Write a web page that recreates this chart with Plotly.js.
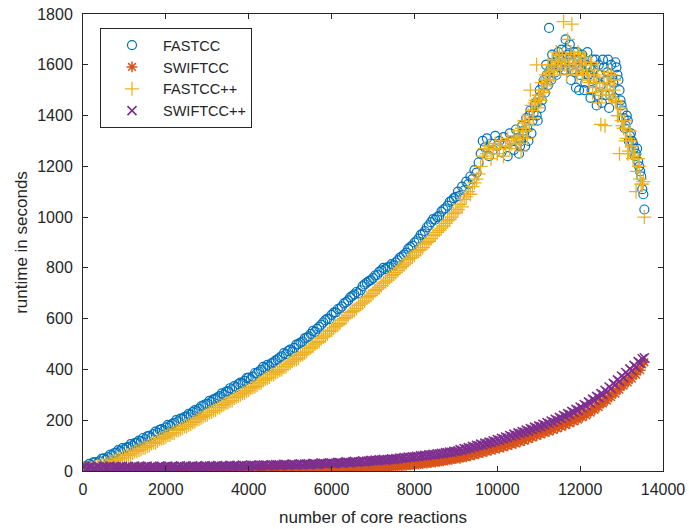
<!DOCTYPE html>
<html>
<head>
<meta charset="utf-8">
<script src="https://cdn.plot.ly/plotly-3.0.1.min.js"></script>
<style>html,body{margin:0;padding:0;background:#fff;}#chart{width:689px;height:529px;}</style>
</head>
<body>
<div id="chart"></div>
<script>
// number of core reactions (shared x values)
const coreReactions = [
0,50,100,150,200,250,300,350,400,450,500,550,600,650,700,750,800,850,900,950,
1000,1050,1100,1150,1200,1250,1300,1350,1400,1450,1500,1550,1600,1650,1700,1750,1800,1850,1900,1950,
2000,2050,2100,2150,2200,2250,2300,2350,2400,2450,2500,2550,2600,2650,2700,2750,2800,2850,2900,2950,
3000,3050,3100,3150,3200,3250,3300,3350,3400,3450,3500,3550,3600,3650,3700,3750,3800,3850,3900,3950,
4000,4050,4100,4150,4200,4250,4300,4350,4400,4450,4500,4550,4600,4650,4700,4750,4800,4850,4900,4950,
5000,5050,5100,5150,5200,5250,5300,5350,5400,5450,5500,5550,5600,5650,5700,5750,5800,5850,5900,5950,
6000,6050,6100,6150,6200,6250,6300,6350,6400,6450,6500,6550,6600,6650,6700,6750,6800,6850,6900,6950,
7000,7050,7100,7150,7200,7250,7300,7350,7400,7450,7500,7550,7600,7650,7700,7750,7800,7850,7900,7950,
8000,8050,8100,8150,8200,8250,8300,8350,8400,8450,8500,8550,8600,8650,8700,8750,8800,8850,8900,8950,
9000,
9050,9100,9150,9200,9250,9300,9350,9400,9450,9500,
9550,9600,9650,9700,9750,9800,9850,9900,9950,10000,
10050,10100,10150,10200,10250,10300,10350,10400,10450,10500,
10550,10600,10650,10700,10750,10800,10850,10900,10950,11000,
11050,11100,11150,11200,11250,11300,11350,11400,11450,11500,
11550,11600,11650,11700,11750,11800,11850,11900,11950,12000,
12050,12100,12150,12200,12250,12300,12350,12400,12450,12500,
12550,12600,12650,12700,12750,12800,12850,12900,12950,13000,
13050,13100,13150,13200,13250,13300,13350,13400,13450,13500,
13550
];

// extra FASTCC / FASTCC++ runs in the peak region
const coreReactionsPeak = [
10525,10575,10625,10675,10725,10775,10825,10875,10925,10975,
11025,11075,11125,11175,11225,11275,11325,11375,11425,11475,
11525,11575,11625,11675,11725,11775,11825,11875,11925,11975,
12025,12075,12125,12175,12225,12275,12325,12375,12425,12475,
12525,12575,12625,12675,12725,12775,12825,12875,12925,12975,
13025,13075,13125,13175,13225,13275,13325,13375,13425,13475,
13525
];

// runtime in seconds, FASTCC
const fastcc = [
12,18,20,28,22,34,35,30,38,48,50,44,55,64,62,70,72,82,78,90,
85,92,95,106,100,110,112,120,118,130,125,136,138,132,145,155,150,162,165,160,
172,182,178,185,190,200,195,206,205,212,215,225,222,232,240,236,245,255,258,262,
265,276,272,282,285,290,295,306,300,312,315,326,322,334,330,342,348,345,355,366,
368,362,372,386,385,392,398,410,405,418,412,424,428,436,440,448,452,464,460,472,
478,470,485,498,500,506,510,522,525,530,540,552,548,560,568,576,585,594,600,598,
615,624,625,638,640,648,660,665,672,684,690,696,705,700,712,728,735,742,748,752,
760,770,772,784,790,800,795,802,805,815,810,822,830,840,845,852,860,875,882,888,
900,905,915,930,935,945,960,968,980,992,990,1000,1005,1022,1030,1035,1045,1060,1065,1075,
1080,
1100,1085,1120,1105,1140,1130,1160,1150,1185,1175,
1215,1250,1300,1275,1310,1240,1290,1265,1320,1280,
1300,1255,1315,1290,1240,1330,1300,1265,1345,1310,
1280,1360,1330,1390,1300,1420,1380,1440,1400,1470,
1430,1520,1490,1560,1745,1540,1600,1570,1630,1590,
1660,1610,1700,1640,1680,1580,1650,1510,1620,1560,
1640,1500,1600,1560,1470,1620,1540,1440,1600,1520,
1620,1480,1570,1430,1600,1530,1610,1560,1500,1440,
1390,1360,1380,1320,1300,1270,1250,1220,1180,1110,
1030
];
const fastccPeak = [
1250,1300,1340,1280,1350,1400,1330,1410,1450,1380,
1500,1460,1540,1600,1520,1580,1640,1610,1560,1650,
1600,1630,1580,1660,1620,1540,1610,1570,1650,1500,
1580,1610,1530,1650,1590,1500,1580,1620,1480,1560,
1450,1590,1540,1620,1480,1550,1470,1590,1540,1460,
1420,1350,1400,1300,1330,1290,1240,1270,1200,1160,
1090
];

// runtime in seconds, SWIFTCC
const swiftcc = [
2,4,3,1,2,5,4,2,3,5,2,3,4,2,3,5,2,4,4,3,
3,5,2,4,4,2,3,5,3,4,4,2,2,5,4,3,3,5,4,3,
3,5,4,2,3,5,5,3,4,6,3,4,5,3,4,6,3,5,5,3,
4,6,5,3,4,6,3,5,5,4,4,6,5,3,4,6,6,4,5,7,
4,6,5,7,6,4,5,7,4,6,6,5,5,7,6,5,5,7,6,5,
5,7,6,5,5,8,7,6,6,8,7,6,6,9,8,7,7,9,8,7,
7,9,8,10,8,9,9,11,9,10,10,12,10,11,11,13,12,12,12,14,
13,15,14,14,15,17,15,17,17,19,18,19,19,22,21,22,22,25,24,25,
25,28,27,29,29,32,31,33,33,36,35,38,38,40,40,43,43,46,46,49,
49,
52,50,55,57,56,61,60,66,64,69,
68,74,72,78,77,83,81,88,86,92,
90,97,94,101,99,107,104,112,109,117,
115,123,120,129,126,135,132,141,138,147,
144,153,150,159,156,165,162,171,168,178,
175,185,181,192,188,199,195,206,202,214,
212,224,219,234,230,245,241,256,252,268,
266,281,277,296,291,310,305,324,320,338,
336,354,349,369,364,385,380,402,397,420,
428
];

// runtime in seconds, FASTCC++
const fastccPP = [
8,6,10,14,12,10,15,22,18,24,22,30,28,34,35,40,42,48,48,52,
55,62,62,68,70,77,78,82,85,92,92,98,100,108,112,110,118,126,128,130,
135,142,142,150,150,160,160,164,168,176,175,182,185,192,195,202,205,210,215,220,
222,230,232,238,240,250,250,258,262,268,270,276,278,288,290,295,300,306,308,315,
318,327,330,332,338,347,348,356,362,366,370,380,380,388,392,398,400,410,412,420,
425,432,438,440,445,456,460,466,472,482,485,492,500,506,510,522,528,532,540,550,
555,564,570,575,582,594,600,604,612,624,628,632,640,652,658,662,670,682,688,692,
700,710,715,722,730,740,745,752,762,770,775,782,790,800,805,812,820,832,838,842,
850,862,868,872,880,894,900,905,915,927,930,940,948,957,965,975,985,990,1000,1014,
1020,
1030,1050,1040,1070,1080,1100,1090,1120,1135,1150,
1170,1200,1240,1270,1250,1280,1230,1265,1290,1250,
1270,1300,1240,1280,1310,1270,1290,1320,1300,1340,
1310,1350,1380,1340,1400,1500,1420,1450,1600,1480,
1460,1500,1540,1520,1570,1600,1560,1620,1590,1640,
1610,1770,1620,1700,1590,1760,1630,1580,1650,1600,
1560,1630,1580,1540,1610,1490,1560,1530,1450,1365,
1500,1360,1530,1480,1560,1500,1460,1400,1250,1380,
1350,1300,1250,1340,1280,1240,1100,1230,1150,1130,
1000
];
const fastccPPPeak = [
1290,1260,1320,1370,1310,1360,1440,1390,1460,1430,
1470,1530,1490,1560,1600,1540,1620,1580,1650,1610,
1580,1640,1600,1560,1620,1650,1590,1620,1560,1640,
1610,1570,1620,1560,1530,1600,1550,1510,1580,1530,
1480,1550,1500,1570,1520,1470,1540,1450,1400,1430,
1360,1380,1310,1260,1300,1230,1250,1180,1200,1130,
1140
];

// runtime in seconds, SWIFTCC++
const swiftccPP = [
14,18,12,15,16,11,13,18,15,12,17,14,14,19,12,16,16,13,15,18,
13,16,17,12,15,19,14,16,18,13,16,19,13,16,17,14,15,19,18,14,
16,19,14,17,18,14,16,20,15,17,19,15,17,20,15,18,18,15,17,21,
16,19,19,16,18,21,16,19,20,17,18,22,17,20,21,18,19,23,18,21,
20,23,22,19,19,23,21,24,23,20,20,24,22,25,24,21,22,26,25,23,
23,27,25,23,26,28,24,27,27,25,26,30,28,26,27,31,30,28,29,32,
31,29,30,34,33,31,32,36,34,33,35,38,34,36,37,40,36,39,39,42,
40,43,41,44,43,46,42,45,45,48,46,49,47,51,50,53,51,55,53,56,
55,58,56,60,59,62,60,64,63,66,64,68,67,70,69,73,72,75,74,78,
77,
79,84,81,88,86,92,89,97,94,101,
99,106,102,110,107,114,112,119,116,124,
121,129,126,134,131,140,136,145,141,150,
147,155,152,161,157,167,163,173,169,178,
175,184,181,191,187,197,193,204,200,211,
207,219,214,226,222,235,230,243,239,252,
248,262,257,272,267,283,278,294,289,305,
301,318,311,331,325,345,339,359,353,374,
368,388,381,402,395,416,409,431,425,442,
446
];

const traceNames = ['FASTCC', 'SWIFTCC', 'FASTCC++', 'SWIFTCC++'];
const xTicks = [0, 2000, 4000, 6000, 8000, 10000, 12000, 14000];
const yTicks = [0, 200, 400, 600, 800, 1000, 1200, 1400, 1600, 1800];

const seriesX = [
  coreReactions.concat(coreReactionsPeak),
  coreReactions,
  coreReactions.concat(coreReactionsPeak),
  coreReactions
];
const seriesY = [
  fastcc.concat(fastccPeak),
  swiftcc,
  fastccPP.concat(fastccPPPeak),
  swiftccPP
];
const styles = [
  {symbol: 'circle-open', color: '#0072BD', size: 9, lw: 1.2},
  {symbol: 'asterisk-open', color: '#D95319', size: 9, lw: 1.5},
  {symbol: 'cross-thin-open', color: '#EDB120', size: 10, lw: 1.3},
  {symbol: 'x-thin-open', color: '#7E2F8E', size: 9, lw: 1.6}
];

const data = seriesY.map((vals, i) => ({
  type: 'scatter',
  mode: 'markers',
  name: traceNames[i],
  x: seriesX[i],
  y: vals,
  marker: {
    symbol: styles[i].symbol,
    size: styles[i].size,
    color: styles[i].color,
    line: {width: styles[i].lw, color: styles[i].color}
  }
}));

const axisColor = '#262626';
const fontFam = '"Liberation Sans", Arial, Helvetica, sans-serif';

const layout = {
  width: 689,
  height: 529,
  margin: {l: 83, r: 26, t: 14, b: 58, pad: 0},
  paper_bgcolor: '#ffffff',
  plot_bgcolor: '#ffffff',
  font: {family: fontFam, color: axisColor, size: 16},
  showlegend: true,
  legend: {
    x: 0.0293, y: 0.969, xanchor: 'left', yanchor: 'top',
    bgcolor: '#ffffff', bordercolor: axisColor, borderwidth: 1,
    font: {family: fontFam, size: 14.5, color: axisColor},
    itemwidth: 52
  },
  xaxis: {
    range: [0, 14000],
    tickvals: xTicks,
    ticktext: xTicks.map(String),
    ticks: 'inside', ticklen: 5, tickwidth: 1, tickcolor: axisColor,
    showline: true, linecolor: axisColor, linewidth: 1, mirror: 'ticks',
    showgrid: false, zeroline: false,
    tickfont: {family: fontFam, size: 16, color: axisColor},
    ticklabelstandoff: 4,
    title: {text: 'number of core reactions', font: {family: fontFam, size: 17, color: axisColor}, standoff: 13}
  },
  yaxis: {
    range: [0, 1800],
    tickvals: yTicks,
    ticktext: yTicks.map(String),
    ticks: 'inside', ticklen: 5, tickwidth: 1, tickcolor: axisColor,
    showline: true, linecolor: axisColor, linewidth: 1, mirror: 'ticks',
    showgrid: false, zeroline: false,
    tickfont: {family: fontFam, size: 16, color: axisColor},
    ticklabelstandoff: 6,
    title: {text: 'runtime in seconds', font: {family: fontFam, size: 17, color: axisColor}, standoff: 5}
  }
};

Plotly.newPlot('chart', data, layout, {displayModeBar: false, staticPlot: true});
</script>
</body>
</html>
